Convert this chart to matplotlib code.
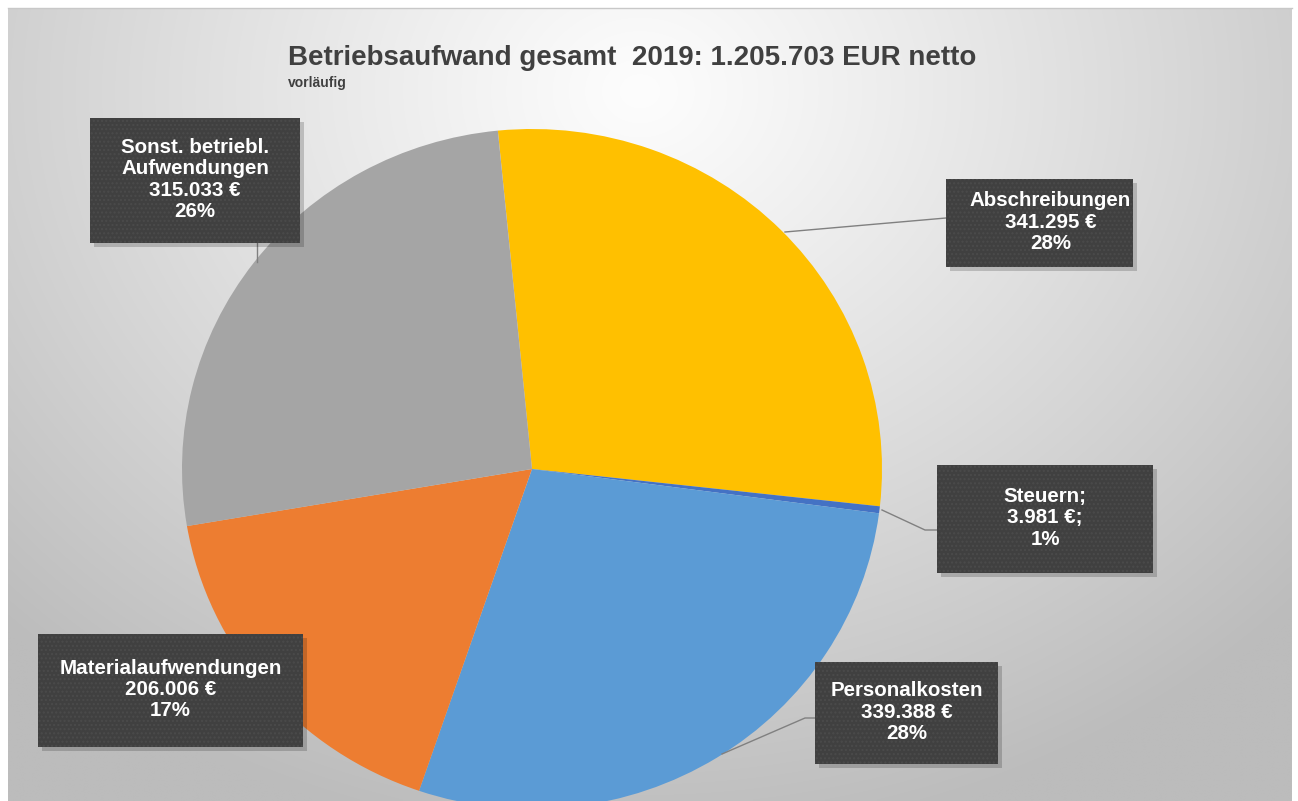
import numpy as np
import matplotlib
matplotlib.use("Agg")
import matplotlib.pyplot as plt
from matplotlib.patches import Rectangle

plt.rcParams['font.family'] = ['Liberation Sans', 'DejaVu Sans']

# ---- data ----
categories = ["Abschreibungen", "Steuern", "Personalkosten",
              "Materialaufwendungen", "Sonst. betriebl.\nAufwendungen"]
values = [341295, 3981, 339388, 206006, 315033]
percent_labels = ["28%", "1%", "28%", "17%", "26%"]
colors = ["#FFC000", "#4472C4", "#5B9BD5", "#ED7D31", "#A5A5A5"]
title = "Betriebsaufwand gesamt  2019: 1.205.703 EUR netto"
subtitle = "vorläufig"

W, H = 1298, 801
fig = plt.figure(figsize=(W / 100, H / 100), dpi=100)
fig.patch.set_facecolor("white")

# background axes in pixel coords
bg = fig.add_axes([0, 0, 1, 1])
bg.set_xlim(0, W)
bg.set_ylim(H, 0)
bg.axis("off")

# radial gradient background
x0, x1, y0, y1 = 8, 1292, 8, 801
xx, yy = np.meshgrid(np.linspace(x0, x1, 400), np.linspace(y0, y1, 250))
d = np.sqrt(((xx - 640) / 900) ** 2 + ((yy - 90) / 760) ** 2)
d = np.clip(d, 0, 1)
g = 253 - (253 - 188) * d ** 1.1
img = np.dstack([g, g, g]) / 255.0
bg.imshow(img, extent=(x0, x1, y1, y0), aspect="auto", zorder=0, interpolation="bilinear")
bg.plot([x0, x1], [y0, y0], color="#c8c8c8", lw=1, zorder=1)

# pie axes (center 532,469; rx 350, ry 340 px)
cx, cy, rx, ry = 532, 469, 350, 340
pax = fig.add_axes([(cx - rx) / W, (H - cy - ry) / H, 2 * rx / W, 2 * ry / H])
pax.pie(values, colors=colors, startangle=95.6, counterclock=False,
        radius=1, wedgeprops=dict(linewidth=0))
pax.set_aspect("auto")
pax.set_xlim(-1, 1)
pax.set_ylim(-1, 1)
pax.axis("off")
pax.set_zorder(2)

# overlay axes for labels
ov = fig.add_axes([0, 0, 1, 1])
ov.set_xlim(0, W)
ov.set_ylim(H, 0)
ov.axis("off")
ov.patch.set_alpha(0)
ov.set_zorder(3)

ov.text(288, 65, title, fontsize=20, fontweight="bold", color="#404040",
        ha="left", va="baseline")
ov.text(288, 87, subtitle, fontsize=10, fontweight="bold", color="#404040",
        ha="left", va="baseline")

# leader lines
line_col = "#808080"
ov.plot([946, 785], [218, 232], color=line_col, lw=1)
ov.plot([937, 925, 882], [530, 530, 510], color=line_col, lw=1)
ov.plot([815, 805, 722], [718, 718, 754], color=line_col, lw=1)
ov.plot([257, 257], [243, 262], color=line_col, lw=1)

# label boxes (left, top, right, bottom)
boxes = [(946, 179, 1133, 267), (937, 465, 1153, 573), (815, 662, 998, 764),
         (38, 634, 303, 747), (90, 118, 300, 243)]
text_dx = [11, 0, 0, 0, 0]

for i, (cat, v, p) in enumerate(zip(categories, values, percent_labels)):
    l, t, r, b = boxes[i]
    # shadow
    ov.add_patch(Rectangle((l + 4, t + 4), r - l, b - t, facecolor="#000000",
                           alpha=0.18, edgecolor="none", zorder=4))
    ov.add_patch(Rectangle((l, t), r - l, b - t, facecolor="#404040",
                           edgecolor="none", zorder=5))
    ov.add_patch(Rectangle((l, t), r - l, b - t, facecolor="none",
                           edgecolor="#4b4b4b", hatch="....", lw=0, zorder=6))
    val = f"{v:,}".replace(",", ".") + " €"
    if cat == "Steuern":
        txt = f"{cat};\n{val};\n{p}"
    else:
        txt = f"{cat}\n{val}\n{p}"
    ov.text((l + r) / 2 + text_dx[i], (t + b) / 2 - 1, txt, color="white",
            fontsize=14.8, fontweight="bold", ha="center", va="center",
            linespacing=1.15, zorder=7)

fig.savefig("out.png", dpi=100, facecolor="white")
